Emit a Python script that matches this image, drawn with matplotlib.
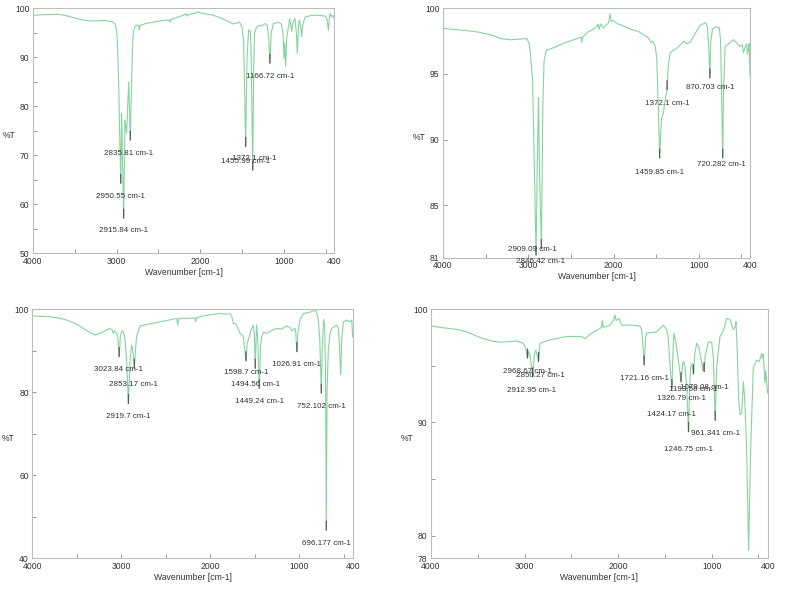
"""Four FT-IR spectra (%T vs wavenumber) with peak picks, 2x2 layout."""

import matplotlib

matplotlib.use("Agg")
import matplotlib.pyplot as plt

plt.rcParams.update(
    {
        "font.family": ["Liberation Sans", "DejaVu Sans"],
        "font.size": 6,
    }
)

LINE_COLOR = "#86d49e"
MARK_COLOR = "#5a5a5a"
FRAME_COLOR = "#bdbdbd"
TEXT_COLOR = "#333333"

# ---------------------------------------------------------------------------
# Spectrum 1 (top left)
# ---------------------------------------------------------------------------
S1_WN = [4000, 3850, 3700, 3600, 3500, 3400, 3300, 3150, 3050, 3020, 3000, 2990,
         2975, 2965, 2950.55, 2940, 2915.84, 2900, 2880, 2855, 2835.81, 2822, 2810,
         2800, 2780, 2760, 2735, 2728, 2720, 2650, 2550, 2450, 2370, 2360, 2350,
         2250, 2200, 2170, 2160, 2130, 2050, 2030, 2000, 1950, 1850, 1750, 1700,
         1640, 1610, 1560, 1530, 1500, 1480, 1455.99, 1440, 1420, 1400, 1390,
         1372.1, 1360, 1350, 1325, 1290, 1260, 1230, 1200, 1180, 1166.72, 1150,
         1126, 1090, 1066, 1030, 1010, 998, 990, 978, 965, 930, 905, 895, 866, 850,
         838, 825, 815, 800, 786, 775, 746, 680, 607, 550, 507, 480, 467, 455, 447,
         430, 415, 400]
S1_T = [98.6, 98.7, 98.8, 98.5, 98.0, 97.6, 97.4, 97.5, 97.3, 96.8, 95.6, 93.0,
        85.0, 76.0, 64.3, 78.6, 57.2, 77.2, 74.5, 85.0, 73.1, 84.0, 92.0,
        95.2, 96.3, 96.6, 96.4, 95.6, 96.5, 96.9, 97.2, 97.5, 97.6, 97.2, 97.7,
        98.3, 98.6, 98.9, 98.4, 98.8, 99.0, 99.3, 99.1, 98.9, 98.6, 98.0, 97.6,
        97.1, 96.8, 97.0, 97.2, 96.2, 93.0, 71.8, 90.0, 95.6, 95.2, 90.0,
        67.0, 88.0, 94.9, 96.2, 96.5, 96.4, 96.9, 96.6, 94.0, 88.8, 95.0,
        96.9, 97.0, 97.2, 96.8, 95.0, 89.8, 93.0, 88.1, 94.0, 97.9, 95.3, 97.0, 97.9, 95.0,
        90.8, 96.0, 97.6, 96.5, 94.2, 96.5, 98.2, 98.5, 98.6, 98.5, 98.4, 97.5, 95.5, 97.8, 98.9,
        98.3, 98.6, 98.0]
S1_PEAKS = [2950.55, 2915.84, 2835.81, 1455.99, 1372.1, 1166.72]
S1_PEAK_T = [64.3, 57.2, 73.1, 71.8, 67.0, 88.8]

# ---------------------------------------------------------------------------
# Spectrum 2 (top right)
# ---------------------------------------------------------------------------
S2_WN = [4000, 3900, 3720, 3600, 3520, 3400, 3330, 3210, 3100, 3016, 2990, 2975,
         2950, 2935, 2909.09, 2895, 2880, 2870, 2846.42, 2830, 2815, 2790, 2700,
         2600, 2470, 2380, 2372, 2365, 2300, 2250, 2200, 2180, 2170, 2150, 2120,
         2060, 2040, 2030, 2010, 1950, 1900, 1800, 1766, 1700, 1649, 1600, 1560,
         1540, 1513, 1495, 1480, 1459.85, 1440, 1415, 1395, 1372.1, 1360, 1337,
         1300, 1259, 1220, 1180, 1140, 1103, 1050, 986, 920, 900, 885, 870.703,
         860, 840, 800, 760, 745, 735, 720.282, 710, 692, 650, 595, 560, 517, 490,
         478, 460, 439, 430, 419, 410, 405, 400]
S2_T = [98.48, 98.4, 98.3, 98.2, 98.1, 97.9, 97.7, 97.6, 97.65, 97.7, 97.3, 96.5,
        94.5, 90.0, 81.2, 88.0, 93.2, 88.0, 81.7, 92.5, 96.0, 96.8, 97.0,
        97.3, 97.6, 97.8, 97.4, 97.8, 98.2, 98.35, 98.6, 98.8, 98.4, 98.8, 98.5,
        98.9, 99.6, 99.0, 99.1, 98.8, 98.7, 98.4, 98.35, 98.2, 97.97, 97.8, 97.4,
        97.5, 97.1, 96.3, 93.5, 88.6, 91.5, 92.1, 93.0, 93.8, 95.5, 96.6,
        96.8, 96.95, 97.2, 97.5, 97.3, 97.4, 98.0, 98.7, 98.9, 98.6, 97.0, 94.7,
        97.5, 98.4, 98.6, 98.5, 97.5, 94.0, 88.6, 94.0, 97.1, 97.3, 97.6, 97.4, 97.1, 97.2,
        96.6, 97.0, 97.3, 96.5, 96.9, 97.3, 96.0, 94.9]
S2_PEAKS = [2909.09, 2846.42, 1459.85, 1372.1, 870.703, 720.282]
S2_PEAK_T = [81.2, 81.7, 88.6, 93.8, 94.7, 88.6]

# ---------------------------------------------------------------------------
# Spectrum 3 (bottom left)
# ---------------------------------------------------------------------------
S3_WN = [4000, 3900, 3800, 3700, 3614, 3500, 3427, 3350, 3296, 3240, 3202, 3127,
         3100, 3090, 3075, 3060, 3040, 3023.84, 3010, 2995, 2977, 2960, 2940,
         2919.7, 2900, 2884, 2870, 2853.17, 2838, 2828, 2790, 2678, 2490, 2378,
         2365, 2355, 2172, 2165, 2158, 2100, 2041, 1960, 1891, 1830, 1779, 1760,
         1741, 1720, 1704, 1680, 1666, 1640, 1629, 1598.7, 1585, 1573, 1540, 1516,
         1505, 1494.56, 1485, 1479, 1465, 1449.24, 1435, 1423, 1400, 1367, 1300,
         1254, 1200, 1142, 1100, 1086, 1048, 1040, 1026.91, 1015, 992, 954, 879,
         823, 805, 786, 770, 752.102, 740, 725, 715, 705, 696.177, 688, 674, 655,
         636, 580, 561, 550, 535, 522, 505, 467, 430, 411, 400]
S3_T = [98.4, 98.3, 98.2, 97.9, 97.4, 96.4, 95.4, 94.4, 93.8, 94.2, 94.6, 95.4,
        95.0, 94.2, 94.8, 94.5, 93.5, 88.6, 93.5, 94.8, 94.6, 93.0, 88.0,
        77.3, 88.0, 91.4, 90.0, 85.8, 91.0, 93.4, 96.0, 96.5, 97.3, 97.8,
        96.2, 97.8, 97.9, 97.0, 97.9, 98.3, 98.6, 98.8, 99.0, 98.8, 99.0, 98.4,
        96.6, 96.6, 96.2, 95.0, 94.2, 93.8, 93.4, 87.6, 92.0, 92.6, 95.0, 96.2,
        94.2, 85.8, 93.0, 96.2, 92.0, 81.0, 91.0, 93.4, 94.5, 94.2, 95.0,
        95.4, 95.2, 96.0, 95.6, 94.8, 95.4, 94.5, 89.8, 94.5, 97.4, 99.0, 99.3,
        99.8, 99.4, 97.4, 93.0, 79.8, 92.0, 97.6, 96.0, 85.0, 46.8, 80.0, 90.2, 94.0,
        95.4, 96.2, 95.4, 92.0, 84.2, 93.0, 97.0, 97.4, 97.0, 97.4, 93.4]
S3_PEAKS = [3023.84, 2919.7, 2853.17, 1598.7, 1494.56, 1449.24, 1026.91, 752.102, 696.177]
S3_PEAK_T = [88.6, 77.3, 85.8, 87.6, 85.8, 81.0, 89.8, 79.8, 46.8]

# ---------------------------------------------------------------------------
# Spectrum 4 (bottom right)
# ---------------------------------------------------------------------------
S4_WN = [4000, 3900, 3797, 3700, 3619, 3500, 3440, 3350, 3262, 3150, 3084, 3013,
         2990, 2968.67, 2955, 2940, 2912.95, 2895, 2880, 2870, 2850.27, 2840, 2835,
         2728, 2549, 2389, 2353, 2282, 2193, 2175, 2168, 2160, 2086, 2045, 2033,
         2020, 1990, 1961, 1837, 1765, 1748, 1735, 1721.16, 1705, 1694, 1587, 1516,
         1480, 1465, 1452, 1440, 1424.17, 1412, 1402, 1390, 1380, 1345, 1326.79,
         1309, 1295, 1284, 1265, 1246.75, 1235, 1224, 1210, 1193.56, 1180, 1160,
         1140, 1124, 1100, 1095, 1088, 1079.08, 1070, 1035, 999, 981, 961.341, 946,
         910, 874, 839, 803, 767, 745, 739, 725, 710, 696, 678, 660, 645, 625, 604,
         582, 554, 518, 489, 465, 452, 447, 440, 429, 420, 411, 400]
S4_T = [98.53, 98.4, 98.3, 98.2, 98.0, 97.6, 97.4, 97.2, 97.1, 97.15, 97.2, 97.0,
        96.6, 95.7, 96.3, 95.8, 94.05, 96.0, 96.4, 96.1, 95.4, 96.5, 97.0,
        97.3, 97.6, 97.6, 97.4, 97.9, 98.3, 98.5, 99.05, 98.4, 98.6, 99.1, 99.5,
        99.0, 99.2, 98.6, 98.6, 98.5, 98.2, 97.0, 95.1, 97.5, 97.9, 98.0, 98.6,
        98.2, 97.6, 96.1, 94.5, 93.0, 96.5, 97.9, 97.4, 97.0, 94.9, 93.6,
        95.2, 95.4, 94.9, 93.0, 89.2, 93.0, 94.9, 95.2, 94.3, 96.0, 97.0,
        96.8, 96.1, 95.0, 94.6, 95.2, 94.5, 95.8, 97.1, 97.1, 95.7, 90.2, 94.9,
        97.6, 98.1, 99.2, 99.1, 98.2, 98.5, 98.9, 96.1, 92.0, 90.7, 90.8, 93.6, 92.0, 87.6, 78.7,
        87.6, 94.9, 95.5, 95.4, 96.1, 95.7, 96.0, 95.0, 93.5, 94.6, 93.6, 92.6]
S4_PEAKS = [2968.67, 2912.95, 2850.27, 1721.16, 1424.17, 1326.79, 1246.75,
            1193.56, 1079.08, 961.341]
S4_PEAK_T = [95.7, 94.05, 95.4, 95.1, 93.0, 93.6, 89.2, 94.3, 94.5, 90.2]

X_TICKS = [4000, 3000, 2000, 1000, 400]
X_MINOR = [3500, 2500, 1500, 500]

# panel layout: (axes rect in figure fraction, y range, y ticks, y minor ticks,
# label offsets in pixels (dx, dy below the peak tip))
PANELS = [
    dict(wn=S1_WN, t=S1_T, peaks=S1_PEAKS, peak_t=S1_PEAK_T,
         rect=[0.0418, 0.5721, 0.3815, 0.4139], ylim=(50, 100),
         yticks=[50, 60, 70, 80, 90, 100], yminor=[55, 65, 75, 85, 95],
         offsets=[(0, 13), (0, 12), (-2, 13), (0, 15), (2, -12), (0, 13)]),
    dict(wn=S2_WN, t=S2_T, peaks=S2_PEAKS, peak_t=S2_PEAK_T,
         rect=[0.5615, 0.5647, 0.3891, 0.4213], ylim=(81, 100),
         yticks=[81, 85, 90, 95, 100], yminor=[],
         offsets=[(-4, -6), (-1, 13), (0, 15), (0, 13.5), (0, 10), (-1, 7)]),
    dict(wn=S3_WN, t=S3_T, peaks=S3_PEAKS, peak_t=S3_PEAK_T,
         rect=[0.0409, 0.0569, 0.4061, 0.4206], ylim=(40, 100),
         yticks=[40, 60, 80, 100], yminor=[50, 70, 90],
         offsets=[(-1, 13), (0, 13), (-1, 16), (0, 12), (0, 16), (0, 13.5),
                  (0, 13), (0, 13), (0, 13)]),
    dict(wn=S4_WN, t=S4_T, peaks=S4_PEAKS, peak_t=S4_PEAK_T,
         rect=[0.5463, 0.0569, 0.4267, 0.4206], ylim=(78, 100),
         yticks=[78, 80, 90, 100], yminor=[85, 95],
         offsets=[(0, 14), (-1, 14), (2, 14), (0, 13.5), (0, 26), (0, 17),
                  (0, 18), (0, 15.5), (0, 15.5), (0, 13)]),
]


def draw_panel(fig, p):
    ax = fig.add_axes(p["rect"])
    ax.plot(p["wn"], p["t"], color=LINE_COLOR, lw=0.8)
    ax.set_xlim(4000, 400)
    ax.set_ylim(*p["ylim"])

    for wn, t, (dx, dy) in zip(p["peaks"], p["peak_t"], p["offsets"]):
        # short dark pick marker at the peak tip
        ax.annotate("", xy=(wn, t), xytext=(0, 9), textcoords="offset pixels",
                    arrowprops=dict(arrowstyle="-", color=MARK_COLOR, lw=0.9,
                                    shrinkA=0, shrinkB=0))
        ax.annotate(f"{wn:g} cm-1", xy=(wn, t), xytext=(dx, -dy),
                    textcoords="offset pixels", ha="center", va="center",
                    fontsize=5.8, color=TEXT_COLOR, annotation_clip=False)

    ax.set_xticks(X_TICKS)
    ax.set_xticks(X_MINOR, minor=True)
    ax.set_yticks(p["yticks"])
    ax.set_yticks(p["yminor"], minor=True)
    ax.tick_params(which="both", direction="in", length=3, width=0.7,
                   color="#9a9a9a", labelcolor=TEXT_COLOR, labelsize=6.2, pad=2.5)
    for side in ax.spines.values():
        side.set_color(FRAME_COLOR)
        side.set_linewidth(0.8)

    ax.set_xlabel("Wavenumber [cm-1]", fontsize=6.2, color=TEXT_COLOR, labelpad=1.5)
    ax.set_ylabel("%T", fontsize=6.2, color=TEXT_COLOR, rotation=0,
                  ha="center", va="center")
    width_px = p["rect"][2] * 789
    ax.yaxis.set_label_coords(-24 / width_px, 0.48)
    return ax


fig = plt.figure(figsize=(7.89, 5.92), dpi=100)
for panel in PANELS:
    draw_panel(fig, panel)

fig.savefig("out.png", dpi=100)
